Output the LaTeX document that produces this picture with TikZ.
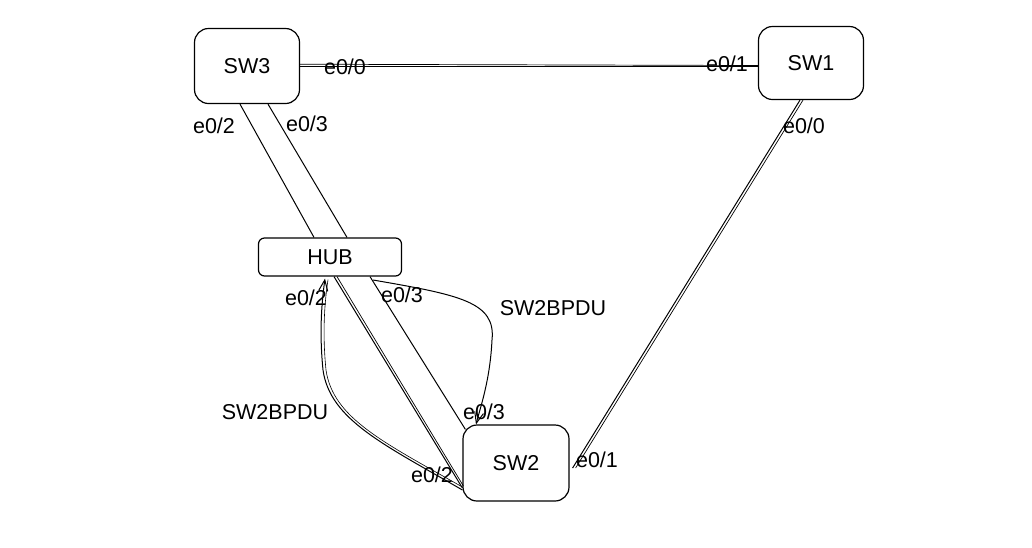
\documentclass[tikz,border=0pt]{standalone}
\usepackage{fontspec}
\setmainfont{Liberation Sans}
\usetikzlibrary{calc,arrows.meta}
\begin{document}
\begin{tikzpicture}[x=1pt,y=-1pt,
  every node/.style={font=\fontsize{21.5}{24}\selectfont},
  sw/.style={draw, line width=1.2pt, rounded corners=14pt, minimum width=105pt, minimum height=75pt, inner sep=0pt},
  hubbox/.style={draw, line width=1.2pt, rounded corners=6pt, minimum width=143pt, minimum height=38pt, inner sep=0pt},
  link/.style={line width=1pt},
  bpdu/.style={line width=1pt, -{Straight Barb[length=11pt,width=9pt]}},
  lbl/.style={inner sep=0pt}]
\useasboundingbox (0,0) rectangle (1032,547);
\node[sw] (sw3) at (247,66) {SW3};
\node[sw, minimum height=73pt] (sw1) at (811,63) {SW1};
\node[hubbox] (hub) at (330,257) {HUB};
\node[sw, minimum width=106pt, minimum height=76pt] (sw2) at (516,463) {SW2};
% links (drawn twice for a sketched look)
\draw[link] (sw3.east) -- (sw1.west |- sw3.east);
\draw[link, line width=0.7pt] ($(sw3.east)+(0,-1.8)$) -- ($(sw1.west |- sw3.east)+(0,-0.5)$);
\draw[link] ($(sw3.south)+(-7,0)$) -- ($(hub.north)+(-16,0)$);
\draw[link] ($(sw3.south)+(21,0)$) -- ($(hub.north)+(17,0)$);
\draw[link] ($(hub.south)+(4,0)$) -- ($(sw2.west)+(0,25)$);
\draw[link, line width=0.7pt] ($(hub.south)+(7,0)$) -- ($(sw2.west)+(1,23)$);
\draw[link] ($(hub.south)+(40,0)$) -- ($(sw2.north west)+(3,5)$);
\draw[link] ($(sw1.south)+(-11,0)$) -- ($(sw2.east)+(3,5)$);
\draw[link, line width=0.7pt] ($(sw1.south)+(-8,0)$) -- ($(sw2.east)+(6,5)$);
% BPDU curves
\coordinate (u0) at (373,280);
\coordinate (u1) at (492,340);
\coordinate (l0) at ($(sw2.west)+(0,27)$);
\coordinate (l1) at (323,370);
\draw[bpdu] (u0) .. controls (460,295) and (496,302) .. (u1) .. controls (490,380) and (481,405) .. ($(sw2.north)+(-40,0)$);
\draw[bpdu] (l0) .. controls (385,445) and (330,420) .. (l1) .. controls (319,330) and (322,300) .. ($(hub.south)+(-5,2)$);
\draw[line width=0.6pt] ($(l0)+(0,-3)$) .. controls (383,442) and (333,418) .. ($(l1)+(3,0)$) .. controls (322,330) and (325,300) .. ($(hub.south)+(-2,3)$);
% labels
\node[lbl] (a1) at (345,67) {e0/0};
\node[lbl] (a2) at (727,64) {e0/1};
\node[lbl] (a3) at (214,126) {e0/2};
\node[lbl] (a4) at (307,124) {e0/3};
\node[lbl] (a5) at (804,126) {e0/0};
\node[lbl] (a6) at (306,298) {e0/2};
\node[lbl] (a7) at (402,295) {e0/3};
\node[lbl] (a8) at (553,308) {SW2BPDU};
\node[lbl] (a9) at (275,412) {SW2BPDU};
\node[lbl] (a10) at (484,412) {e0/3};
\node[lbl] (a11) at (432,475) {e0/2};
\node[lbl] (a12) at (597,460) {e0/1};
\end{tikzpicture}
\end{document}
